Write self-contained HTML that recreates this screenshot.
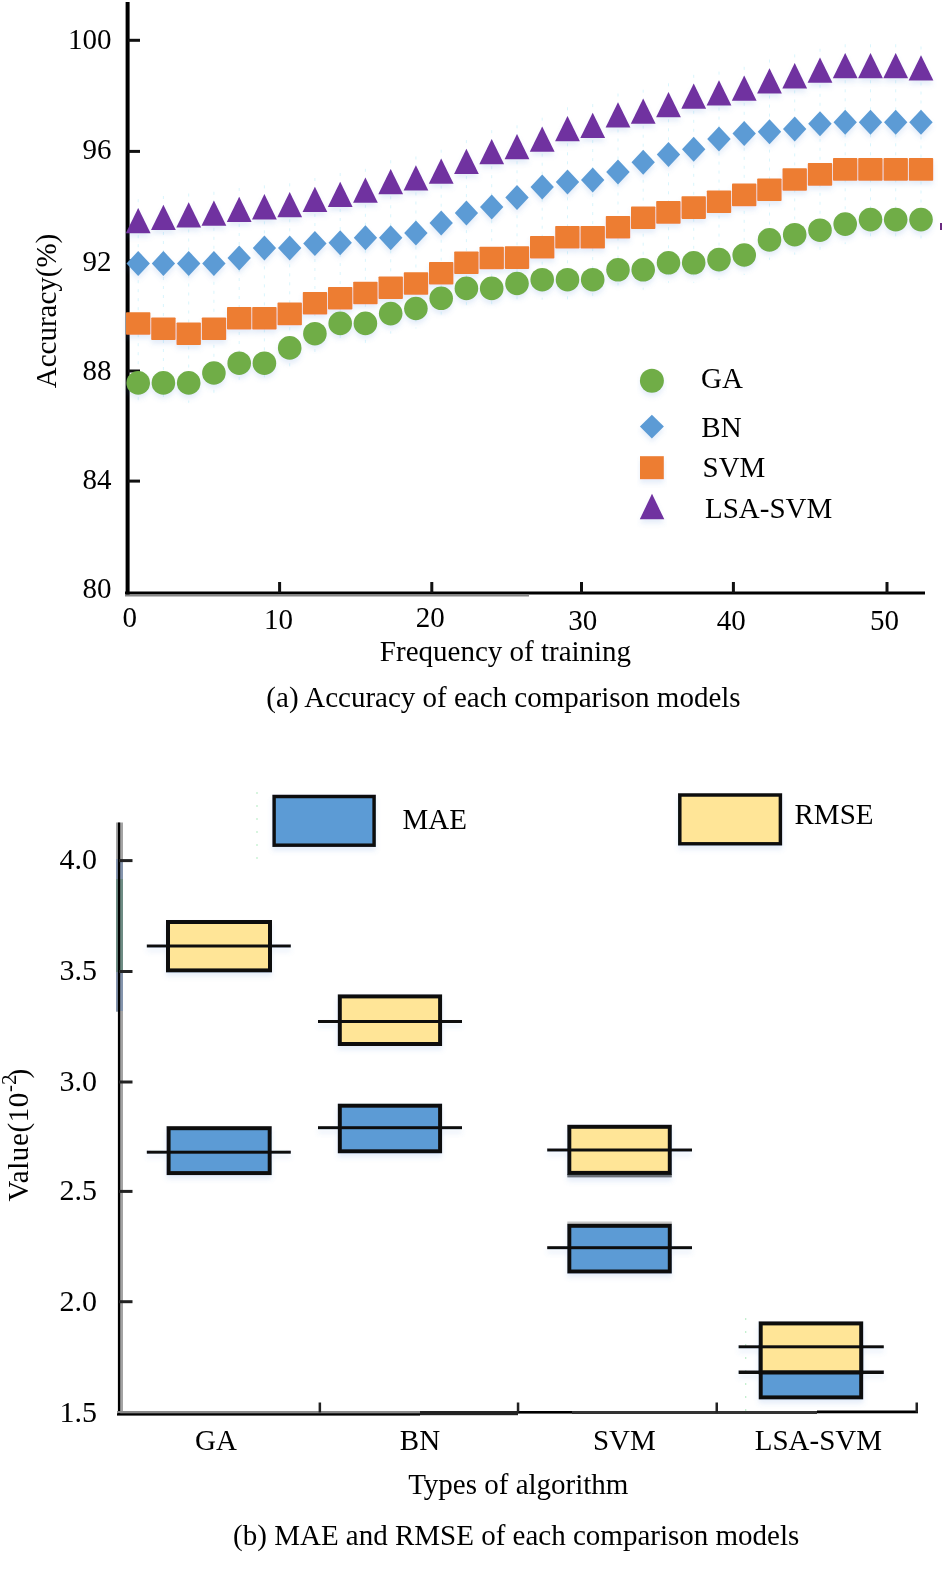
<!DOCTYPE html><html><head><meta charset="utf-8"><style>html,body{margin:0;padding:0;background:#fff;}svg{display:block;}text{opacity:0.999;}text{font-family:"Liberation Serif",serif;fill:#000;}</style></head><body>
<svg width="942" height="1584" viewBox="0 0 942 1584">
<defs><filter id="sh" x="-10%" y="-10%" width="120%" height="130%"><feGaussianBlur in="SourceAlpha" stdDeviation="2.5" result="b"/><feOffset in="b" dy="4" result="o"/><feFlood flood-color="#5b8fd8" flood-opacity="0.16"/><feComposite in2="o" operator="in" result="s"/><feMerge><feMergeNode in="s"/><feMergeNode in="SourceGraphic"/></feMerge></filter></defs>
<rect width="942" height="1584" fill="#fff"/>
<path d="M138.2 199.2 V402.9 M163.4 196 V402.9 M188.7 193.5 V402.9 M213.9 191.8 V393 M239.2 188 V383.2 M264.4 185.4 V383.2 M289.7 183.3 V367.9 M314.9 178 V353.7 M340.2 173 V343.4 M365.4 168.8 V343.4 M390.7 160.3 V333.6 M415.9 156.5 V328.5 M441.2 149.7 V318.3 M466.4 140.1 V308.4 M491.7 130.2 V308.4 M517 125.3 V303.5 M542.2 117.7 V299.7 M567.5 107.3 V299.7 M592.7 104.1 V299.7 M618 93.5 V289.8 M643.2 89.7 V289.8 M668.5 83.3 V282.8 M693.7 74.8 V282.8 M719 71.6 V279.6 M744.2 66.8 V275 M769.5 59.6 V259.9 M794.7 54.4 V254.7 M820 48.8 V250.2 M845.2 44.3 V244.1 M870.5 44.3 V239.6 M895.7 44.3 V239.6 M921 46.5 V239.6" stroke="#bfeefa" stroke-width="1" stroke-dasharray="3 6" opacity="0.6" fill="none"/>
<rect x="940" y="223" width="2" height="7" fill="#6a2a80"/>
<rect x="125.6" y="2" width="4" height="593" fill="#000"/>
<rect x="125" y="591.5" width="800" height="3" fill="#000"/>
<rect x="125" y="594.5" width="404" height="2" fill="#888"/>
<rect x="128" y="38.8" width="12" height="3" fill="#111"/>
<rect x="128" y="149.9" width="12" height="3" fill="#111"/>
<rect x="128" y="259.5" width="12" height="3" fill="#111"/>
<rect x="128" y="369.5" width="12" height="3" fill="#111"/>
<rect x="128" y="479.6" width="12" height="3" fill="#111"/>
<rect x="278.1" y="582" width="3" height="11" fill="#111"/>
<rect x="430.3" y="582" width="3" height="11" fill="#111"/>
<rect x="580" y="582" width="3" height="11" fill="#111"/>
<rect x="731.9" y="582" width="3" height="11" fill="#111"/>
<rect x="885.5" y="582" width="3" height="11" fill="#111"/>
<g filter="url(#sh)"><circle cx="138.2" cy="382.9" r="11.8" fill="#70AD47"/><circle cx="163.4" cy="382.9" r="11.8" fill="#70AD47"/><circle cx="188.7" cy="382.9" r="11.8" fill="#70AD47"/><circle cx="213.9" cy="373" r="11.8" fill="#70AD47"/><circle cx="239.2" cy="363.2" r="11.8" fill="#70AD47"/><circle cx="264.4" cy="363.2" r="11.8" fill="#70AD47"/><circle cx="289.7" cy="347.9" r="11.8" fill="#70AD47"/><circle cx="314.9" cy="333.7" r="11.8" fill="#70AD47"/><circle cx="340.2" cy="323.4" r="11.8" fill="#70AD47"/><circle cx="365.4" cy="323.4" r="11.8" fill="#70AD47"/><circle cx="390.7" cy="313.6" r="11.8" fill="#70AD47"/><circle cx="415.9" cy="308.5" r="11.8" fill="#70AD47"/><circle cx="441.2" cy="298.3" r="11.8" fill="#70AD47"/><circle cx="466.4" cy="288.4" r="11.8" fill="#70AD47"/><circle cx="491.7" cy="288.4" r="11.8" fill="#70AD47"/><circle cx="517" cy="283.5" r="11.8" fill="#70AD47"/><circle cx="542.2" cy="279.7" r="11.8" fill="#70AD47"/><circle cx="567.5" cy="279.7" r="11.8" fill="#70AD47"/><circle cx="592.7" cy="279.7" r="11.8" fill="#70AD47"/><circle cx="618" cy="269.8" r="11.8" fill="#70AD47"/><circle cx="643.2" cy="269.8" r="11.8" fill="#70AD47"/><circle cx="668.5" cy="262.8" r="11.8" fill="#70AD47"/><circle cx="693.7" cy="262.8" r="11.8" fill="#70AD47"/><circle cx="719" cy="259.6" r="11.8" fill="#70AD47"/><circle cx="744.2" cy="255" r="11.8" fill="#70AD47"/><circle cx="769.5" cy="239.9" r="11.8" fill="#70AD47"/><circle cx="794.7" cy="234.7" r="11.8" fill="#70AD47"/><circle cx="820" cy="230.2" r="11.8" fill="#70AD47"/><circle cx="845.2" cy="224.1" r="11.8" fill="#70AD47"/><circle cx="870.5" cy="219.6" r="11.8" fill="#70AD47"/><circle cx="895.7" cy="219.6" r="11.8" fill="#70AD47"/><circle cx="921" cy="219.6" r="11.8" fill="#70AD47"/><rect x="126" y="312.2" width="24.4" height="22.6" rx="0.8" fill="#ED7D31"/><rect x="151.2" y="317.5" width="24.4" height="22.6" rx="0.8" fill="#ED7D31"/><rect x="176.5" y="322.4" width="24.4" height="22.6" rx="0.8" fill="#ED7D31"/><rect x="201.8" y="317.5" width="24.4" height="22.6" rx="0.8" fill="#ED7D31"/><rect x="227" y="306.9" width="24.4" height="22.6" rx="0.8" fill="#ED7D31"/><rect x="252.2" y="306.9" width="24.4" height="22.6" rx="0.8" fill="#ED7D31"/><rect x="277.5" y="302.6" width="24.4" height="22.6" rx="0.8" fill="#ED7D31"/><rect x="302.8" y="292" width="24.4" height="22.6" rx="0.8" fill="#ED7D31"/><rect x="328" y="287" width="24.4" height="22.6" rx="0.8" fill="#ED7D31"/><rect x="353.2" y="281.7" width="24.4" height="22.6" rx="0.8" fill="#ED7D31"/><rect x="378.5" y="276.4" width="24.4" height="22.6" rx="0.8" fill="#ED7D31"/><rect x="403.8" y="272.2" width="24.4" height="22.6" rx="0.8" fill="#ED7D31"/><rect x="429" y="262" width="24.4" height="22.6" rx="0.8" fill="#ED7D31"/><rect x="454.2" y="251.4" width="24.4" height="22.6" rx="0.8" fill="#ED7D31"/><rect x="479.5" y="246.7" width="24.4" height="22.6" rx="0.8" fill="#ED7D31"/><rect x="504.8" y="246.3" width="24.4" height="22.6" rx="0.8" fill="#ED7D31"/><rect x="530" y="236" width="24.4" height="22.6" rx="0.8" fill="#ED7D31"/><rect x="555.2" y="226" width="24.4" height="22.6" rx="0.8" fill="#ED7D31"/><rect x="580.5" y="226" width="24.4" height="22.6" rx="0.8" fill="#ED7D31"/><rect x="605.8" y="216" width="24.4" height="22.6" rx="0.8" fill="#ED7D31"/><rect x="631" y="206.4" width="24.4" height="22.6" rx="0.8" fill="#ED7D31"/><rect x="656.2" y="201.1" width="24.4" height="22.6" rx="0.8" fill="#ED7D31"/><rect x="681.5" y="196.3" width="24.4" height="22.6" rx="0.8" fill="#ED7D31"/><rect x="706.8" y="190.5" width="24.4" height="22.6" rx="0.8" fill="#ED7D31"/><rect x="732" y="183.6" width="24.4" height="22.6" rx="0.8" fill="#ED7D31"/><rect x="757.2" y="178.4" width="24.4" height="22.6" rx="0.8" fill="#ED7D31"/><rect x="782.5" y="168.2" width="24.4" height="22.6" rx="0.8" fill="#ED7D31"/><rect x="807.8" y="163.1" width="24.4" height="22.6" rx="0.8" fill="#ED7D31"/><rect x="833" y="158.1" width="24.4" height="22.6" rx="0.8" fill="#ED7D31"/><rect x="858.2" y="158.1" width="24.4" height="22.6" rx="0.8" fill="#ED7D31"/><rect x="883.5" y="158.1" width="24.4" height="22.6" rx="0.8" fill="#ED7D31"/><rect x="908.8" y="158.1" width="24.4" height="22.6" rx="0.8" fill="#ED7D31"/><path d="M138.2 250.9L149.9 263.4L138.2 275.9L126.5 263.4Z" fill="#5B9BD5"/><path d="M163.4 250.9L175.1 263.4L163.4 275.9L151.8 263.4Z" fill="#5B9BD5"/><path d="M188.7 250.9L200.4 263.4L188.7 275.9L177 263.4Z" fill="#5B9BD5"/><path d="M213.9 250.9L225.6 263.4L213.9 275.9L202.2 263.4Z" fill="#5B9BD5"/><path d="M239.2 245.6L250.9 258.1L239.2 270.6L227.5 258.1Z" fill="#5B9BD5"/><path d="M264.4 235.6L276.1 248.1L264.4 260.6L252.8 248.1Z" fill="#5B9BD5"/><path d="M289.7 235.6L301.4 248.1L289.7 260.6L278 248.1Z" fill="#5B9BD5"/><path d="M314.9 230.9L326.6 243.4L314.9 255.9L303.2 243.4Z" fill="#5B9BD5"/><path d="M340.2 230.2L351.9 242.7L340.2 255.2L328.5 242.7Z" fill="#5B9BD5"/><path d="M365.4 225.3L377.1 237.8L365.4 250.3L353.8 237.8Z" fill="#5B9BD5"/><path d="M390.7 225.3L402.4 237.8L390.7 250.3L379 237.8Z" fill="#5B9BD5"/><path d="M415.9 220.5L427.6 233L415.9 245.5L404.2 233Z" fill="#5B9BD5"/><path d="M441.2 210.5L452.9 223L441.2 235.5L429.5 223Z" fill="#5B9BD5"/><path d="M466.4 200.5L478.1 213L466.4 225.5L454.8 213Z" fill="#5B9BD5"/><path d="M491.7 194.5L503.4 207L491.7 219.5L480 207Z" fill="#5B9BD5"/><path d="M517 185L528.7 197.5L517 210L505.3 197.5Z" fill="#5B9BD5"/><path d="M542.2 174.5L553.9 187L542.2 199.5L530.5 187Z" fill="#5B9BD5"/><path d="M567.5 169.6L579.2 182.1L567.5 194.6L555.8 182.1Z" fill="#5B9BD5"/><path d="M592.7 167.5L604.4 180L592.7 192.5L581 180Z" fill="#5B9BD5"/><path d="M618 159.6L629.7 172.1L618 184.6L606.2 172.1Z" fill="#5B9BD5"/><path d="M643.2 149.8L654.9 162.3L643.2 174.8L631.5 162.3Z" fill="#5B9BD5"/><path d="M668.5 142L680.2 154.5L668.5 167L656.8 154.5Z" fill="#5B9BD5"/><path d="M693.7 136.7L705.4 149.2L693.7 161.7L682 149.2Z" fill="#5B9BD5"/><path d="M719 126.5L730.7 139L719 151.5L707.2 139Z" fill="#5B9BD5"/><path d="M744.2 120.9L755.9 133.4L744.2 145.9L732.5 133.4Z" fill="#5B9BD5"/><path d="M769.5 119.3L781.2 131.8L769.5 144.3L757.8 131.8Z" fill="#5B9BD5"/><path d="M794.7 116.4L806.4 128.9L794.7 141.4L783 128.9Z" fill="#5B9BD5"/><path d="M820 111.2L831.7 123.7L820 136.2L808.2 123.7Z" fill="#5B9BD5"/><path d="M845.2 109.7L856.9 122.2L845.2 134.7L833.5 122.2Z" fill="#5B9BD5"/><path d="M870.5 109.7L882.2 122.2L870.5 134.7L858.8 122.2Z" fill="#5B9BD5"/><path d="M895.7 109.7L907.4 122.2L895.7 134.7L884 122.2Z" fill="#5B9BD5"/><path d="M921 109.7L932.7 122.2L921 134.7L909.2 122.2Z" fill="#5B9BD5"/><path d="M138.2 207.9L150.6 233.2L125.8 233.2Z" fill="#7030A0"/><path d="M163.4 204.7L175.8 230L151 230Z" fill="#7030A0"/><path d="M188.7 202.2L201.1 227.5L176.3 227.5Z" fill="#7030A0"/><path d="M213.9 200.5L226.3 225.8L201.5 225.8Z" fill="#7030A0"/><path d="M239.2 196.7L251.6 222L226.8 222Z" fill="#7030A0"/><path d="M264.4 194.1L276.8 219.4L252 219.4Z" fill="#7030A0"/><path d="M289.7 192L302.1 217.3L277.3 217.3Z" fill="#7030A0"/><path d="M314.9 186.7L327.3 212L302.6 212Z" fill="#7030A0"/><path d="M340.2 181.7L352.6 207L327.8 207Z" fill="#7030A0"/><path d="M365.4 177.5L377.8 202.8L353.1 202.8Z" fill="#7030A0"/><path d="M390.7 169L403.1 194.3L378.3 194.3Z" fill="#7030A0"/><path d="M415.9 165.2L428.3 190.5L403.6 190.5Z" fill="#7030A0"/><path d="M441.2 158.4L453.6 183.7L428.8 183.7Z" fill="#7030A0"/><path d="M466.4 148.8L478.8 174.1L454.1 174.1Z" fill="#7030A0"/><path d="M491.7 138.9L504.1 164.2L479.3 164.2Z" fill="#7030A0"/><path d="M517 134L529.4 159.3L504.6 159.3Z" fill="#7030A0"/><path d="M542.2 126.4L554.6 151.7L529.8 151.7Z" fill="#7030A0"/><path d="M567.5 116L579.9 141.3L555.1 141.3Z" fill="#7030A0"/><path d="M592.7 112.8L605.1 138.1L580.3 138.1Z" fill="#7030A0"/><path d="M618 102.2L630.4 127.5L605.6 127.5Z" fill="#7030A0"/><path d="M643.2 98.4L655.6 123.7L630.8 123.7Z" fill="#7030A0"/><path d="M668.5 92L680.9 117.3L656.1 117.3Z" fill="#7030A0"/><path d="M693.7 83.5L706.1 108.8L681.3 108.8Z" fill="#7030A0"/><path d="M719 80.3L731.4 105.6L706.6 105.6Z" fill="#7030A0"/><path d="M744.2 75.5L756.6 100.8L731.8 100.8Z" fill="#7030A0"/><path d="M769.5 68.3L781.9 93.6L757.1 93.6Z" fill="#7030A0"/><path d="M794.7 63.1L807.1 88.4L782.3 88.4Z" fill="#7030A0"/><path d="M820 57.5L832.4 82.8L807.6 82.8Z" fill="#7030A0"/><path d="M845.2 53L857.6 78.3L832.8 78.3Z" fill="#7030A0"/><path d="M870.5 53L882.9 78.3L858.1 78.3Z" fill="#7030A0"/><path d="M895.7 53L908.1 78.3L883.3 78.3Z" fill="#7030A0"/><path d="M921 55.2L933.4 80.5L908.6 80.5Z" fill="#7030A0"/></g>
<text x="111.5" y="49.3" font-size="29" text-anchor="end">100</text>
<text x="111.5" y="159" font-size="29" text-anchor="end">96</text>
<text x="111.5" y="270.5" font-size="29" text-anchor="end">92</text>
<text x="111.5" y="380" font-size="29" text-anchor="end">88</text>
<text x="111.5" y="489" font-size="29" text-anchor="end">84</text>
<text x="111.5" y="598.3" font-size="29" text-anchor="end">80</text>
<text x="129.7" y="627.2" font-size="29" text-anchor="middle">0</text>
<text x="278.5" y="629" font-size="29" text-anchor="middle">10</text>
<text x="430.3" y="626.5" font-size="29" text-anchor="middle">20</text>
<text x="582.8" y="629.5" font-size="29" text-anchor="middle">30</text>
<text x="731.2" y="629.5" font-size="29" text-anchor="middle">40</text>
<text x="884.5" y="629.5" font-size="29" text-anchor="middle">50</text>
<text x="505.5" y="661.3" font-size="29" text-anchor="middle">Frequency of training</text>
<text x="503.5" y="707" font-size="29" text-anchor="middle">(a) Accuracy of each comparison models</text>
<text transform="translate(55.7 311) rotate(-90)" font-size="29" text-anchor="middle">Accuracy(%)</text>
<g filter="url(#sh)">
<circle cx="651.9" cy="380.8" r="12" fill="#70AD47"/>
<path d="M651.9 414.8L663.9 426.6L651.9 438.4L639.9 426.6Z" fill="#5B9BD5"/>
<rect x="640" y="456.2" width="23.8" height="23" fill="#ED7D31"/>
<path d="M652 493.8L664.3 519.3L639.8 519.3Z" fill="#7030A0"/>
</g>
<text x="701" y="388.4" font-size="29">GA</text>
<text x="701.3" y="436.6" font-size="29">BN</text>
<text x="702.5" y="476.6" font-size="29">SVM</text>
<text x="705" y="517.8" font-size="29">LSA-SVM</text>
<path d="M257 792V866M745.7 1318V1420" stroke="#bfeecb" stroke-width="1.2" stroke-dasharray="2 11" fill="none"/>
<g filter="url(#sh)">
<rect x="274.1" y="796.5" width="100" height="48.7" fill="#5B9BD5" stroke="#111" stroke-width="3.5"/>
<rect x="679.8" y="795" width="100.6" height="48.8" fill="#FFE597" stroke="#111" stroke-width="3.5"/>
<rect x="168" y="922" width="102" height="48.4" fill="#FFE597" stroke="#111" stroke-width="4"/>
<rect x="146.8" y="944.5" width="144" height="3" fill="#111"/>
<rect x="168.6" y="1128.2" width="101.1" height="44.9" fill="#5B9BD5" stroke="#111" stroke-width="4"/>
<rect x="146.8" y="1150.7" width="144" height="3" fill="#111"/>
<rect x="339.8" y="996.4" width="100.3" height="47.6" fill="#FFE597" stroke="#111" stroke-width="4"/>
<rect x="318" y="1020" width="144" height="3" fill="#111"/>
<rect x="339.8" y="1105.7" width="100.3" height="45.6" fill="#5B9BD5" stroke="#111" stroke-width="4"/>
<rect x="318" y="1126.2" width="144" height="3" fill="#111"/>
<rect x="567.3" y="1174" width="104.5" height="3.4" fill="#6a7078"/>
<rect x="569.3" y="1126.8" width="100.5" height="46.1" fill="#FFE597" stroke="#111" stroke-width="4"/>
<rect x="547.2" y="1148.5" width="144.8" height="3" fill="#111"/>
<rect x="567.3" y="1221.5" width="104.5" height="2.5" fill="#c8c8c8"/>
<rect x="569.3" y="1225.8" width="100.5" height="45.7" fill="#5B9BD5" stroke="#111" stroke-width="4"/>
<rect x="547.2" y="1246.2" width="144.8" height="3" fill="#111"/>
<rect x="760.7" y="1347" width="100.5" height="50.4" fill="#5B9BD5" stroke="#111" stroke-width="4"/>
<rect x="760.7" y="1323.4" width="100.5" height="49.1" fill="#FFE597" stroke="#111" stroke-width="4"/>
<rect x="738.6" y="1345.3" width="145.2" height="3" fill="#111"/>
<rect x="738.6" y="1370.5" width="145.2" height="3.5" fill="#111"/>
</g>
<text x="402.5" y="829.3" font-size="29">MAE</text>
<text x="794.5" y="824.4" font-size="29">RMSE</text>
<rect x="116" y="822.5" width="7" height="189" fill="#a4a4a4"/>
<rect x="116" y="859" width="7" height="20" fill="#8494ac"/>
<rect x="116" y="879" width="7" height="93" fill="#6e8c84"/>
<rect x="116" y="972" width="7" height="39.5" fill="#8494ac"/>
<rect x="120" y="1011" width="3" height="402" fill="#a4a4a4"/>
<rect x="117.9" y="822.5" width="2.3" height="592" fill="#000"/>
<rect x="117" y="1411" width="303" height="2.2" fill="#8a8a8a"/>
<rect x="117" y="1413.2" width="303" height="2.4" fill="#000"/>
<rect x="420" y="1411" width="98" height="4.2" fill="#222"/>
<rect x="518" y="1411" width="54" height="2.6" fill="#000"/>
<rect x="572" y="1411" width="245" height="3" fill="#333"/>
<rect x="817" y="1410.5" width="101" height="2.8" fill="#000"/>
<rect x="119" y="859.1" width="13.5" height="3" fill="#222"/>
<rect x="119" y="970" width="13.5" height="3" fill="#222"/>
<rect x="119" y="1080.5" width="13.5" height="3" fill="#222"/>
<rect x="119" y="1189.9" width="13.5" height="3" fill="#222"/>
<rect x="119" y="1300.2" width="13.5" height="3" fill="#222"/>
<rect x="318.6" y="1402.5" width="2.5" height="10" fill="#222"/>
<rect x="516.8" y="1402.5" width="2.5" height="10" fill="#222"/>
<rect x="715.5" y="1402.5" width="2.5" height="10" fill="#222"/>
<rect x="915.5" y="1402.5" width="2.5" height="10" fill="#222"/>
<text x="97" y="869.3" font-size="30" text-anchor="end">4.0</text>
<text x="97" y="980.4" font-size="30" text-anchor="end">3.5</text>
<text x="97" y="1090.5" font-size="30" text-anchor="end">3.0</text>
<text x="97" y="1200.2" font-size="30" text-anchor="end">2.5</text>
<text x="97" y="1311.3" font-size="30" text-anchor="end">2.0</text>
<text x="97" y="1422.4" font-size="30" text-anchor="end">1.5</text>
<text x="216" y="1450.4" font-size="29" text-anchor="middle">GA</text>
<text x="420" y="1450.4" font-size="29" text-anchor="middle">BN</text>
<text x="624.4" y="1450.4" font-size="29" text-anchor="middle">SVM</text>
<text x="818.4" y="1450.4" font-size="29" text-anchor="middle">LSA-SVM</text>
<text x="518.3" y="1494" font-size="29" text-anchor="middle">Types of algorithm</text>
<text x="516.2" y="1545.3" font-size="29" text-anchor="middle">(b) MAE and RMSE of each comparison models</text>
<text transform="translate(28.2 1201.6) rotate(-90)" font-size="29" letter-spacing="0.6">Value(10<tspan font-size="21" dy="-12.3" letter-spacing="0">-2</tspan><tspan dy="12.3" dx="-4">)</tspan></text>
</svg></body></html>
